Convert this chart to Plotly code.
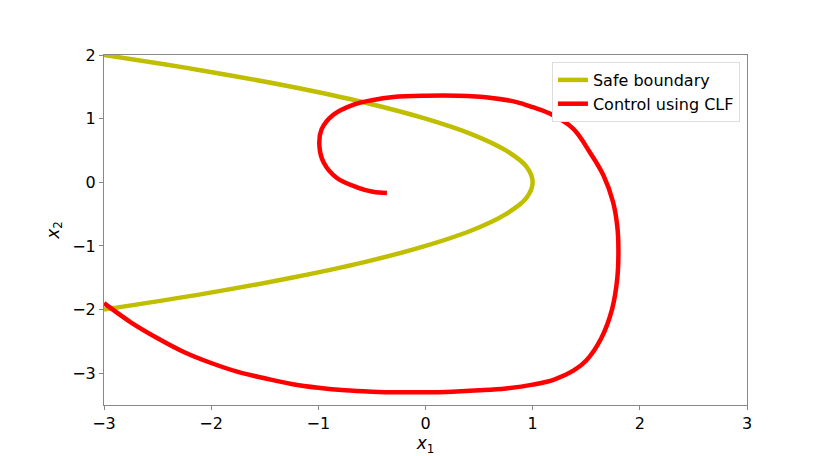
import plotly.graph_objects as go

# Frontière de sécurité (x1 en fonction de x2)
safe_x2 = [2.0, 1.75, 1.5, 1.25, 1.0, 0.75, 0.5, 0.25, 0.0,
           -0.25, -0.5, -0.75, -1.0, -1.25, -1.5, -1.75, -2.0]
safe_x1 = [-3.0, -2.06, -1.25, -0.56, 0.0, 0.44, 0.75, 0.94, 1.0,
           0.94, 0.75, 0.44, 0.0, -0.56, -1.25, -2.06, -3.0]

# Trajectoire avec la commande CLF
clf_x1 = [-3.0, -2.75, -2.5, -2.25, -2.0, -1.75, -1.5, -1.25, -1.0, -0.75,
          -0.5, -0.25, 0.0, 0.25, 0.5, 0.75, 1.0, 1.2, 1.38, 1.5,
          1.64, 1.74, 1.79, 1.8, 1.79, 1.75, 1.66, 1.53, 1.38, 1.16,
          1.0, 0.85, 0.6, 0.3, 0.0, -0.3, -0.5, -0.67, -0.86, -0.97,
          -0.99, -0.95, -0.83, -0.64, -0.49, -0.36]
clf_x2 = [-1.9, -2.2, -2.45, -2.67, -2.84, -2.98, -3.08, -3.17, -3.23, -3.27,
          -3.29, -3.3, -3.3, -3.29, -3.27, -3.24, -3.18, -3.1, -2.96, -2.8,
          -2.45, -2.0, -1.5, -1.05, -0.7, -0.31, 0.11, 0.48, 0.84, 1.08,
          1.18, 1.26, 1.33, 1.36, 1.36, 1.34, 1.29, 1.22, 1.06, 0.83,
          0.57, 0.31, 0.07, -0.08, -0.15, -0.17]

fig = go.Figure()
fig.add_trace(go.Scatter(x=safe_x1, y=safe_x2, mode="lines", name="Safe boundary",
                         line=dict(color="#bfbf00", width=4.5, shape="spline")))
fig.add_trace(go.Scatter(x=clf_x1, y=clf_x2, mode="lines", name="Control using CLF",
                         line=dict(color="#ff0000", width=4.5, shape="spline")))

axis_style = dict(showgrid=False, zeroline=False, showline=True, linecolor="#888888",
                  linewidth=1, mirror=True, ticks="outside", ticklen=4, tickcolor="#888888",
                  tickfont=dict(size=16, color="black"), automargin=False)

# la page a une marge de 8 px autour du graphique : on la compense ici
fig.update_layout(
    width=823, height=448,
    margin=dict(l=96, r=84, t=47, b=51),
    paper_bgcolor="white", plot_bgcolor="white",
    font=dict(family="DejaVu Sans", color="black"),
    xaxis=dict(range=[-3, 3], dtick=1, title=dict(text="<i>x</i><sub>1</sub>", font=dict(size=17), standoff=2),
               **axis_style),
    yaxis=dict(range=[-3.5, 2], dtick=1, title=dict(text="<i>x</i><sub>2</sub>", font=dict(size=17), standoff=8),
               **axis_style),
    legend=dict(x=0.989, y=0.98, xanchor="right", yanchor="top", bgcolor="white",
                bordercolor="#dddddd", borderwidth=1, font=dict(size=16)),
    showlegend=True,
)

fig.write_html("out.html")
